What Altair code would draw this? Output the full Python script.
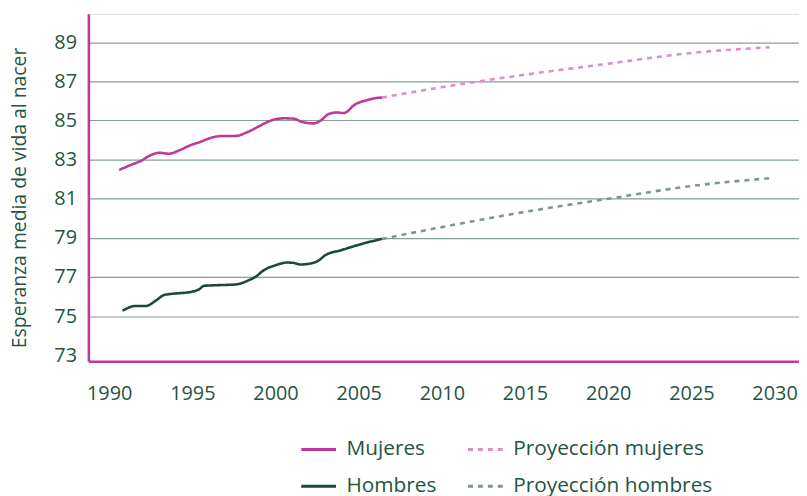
import altair as alt
import pandas as pd

# ---- data ----
muj_years = [1990.6, 1991.4, 1991.9, 1992.5, 1993.0, 1993.6, 1994.2, 1994.9, 1995.5,
             1996.1, 1996.9, 1997.6, 1998.3, 1999.0, 1999.7, 2000.5, 2001.1, 2001.6,
             2002.3, 2002.7, 2003.2, 2003.7, 2004.1, 2004.8, 2005.5, 2006.0, 2006.4]
muj_values = [82.47, 82.76, 82.93, 83.23, 83.35, 83.30, 83.47, 83.74, 83.91,
              84.11, 84.21, 84.21, 84.40, 84.70, 84.99, 85.11, 85.09, 84.92,
              84.85, 84.99, 85.33, 85.41, 85.38, 85.83, 86.04, 86.14, 86.17]

hom_years = [1990.8, 1991.6, 1992.2, 1992.8, 1993.3, 1994.0, 1994.7, 1995.4, 1995.7,
             1996.4, 1997.6, 1998.4, 1998.8, 1999.3, 2000.0, 2000.7, 2001.1, 2001.5,
             2002.1, 2002.6, 2003.0, 2003.9, 2005.1, 2006.4]
hom_values = [75.28, 75.52, 75.52, 75.79, 76.08, 76.16, 76.21, 76.37, 76.55,
              76.58, 76.62, 76.84, 77.01, 77.35, 77.60, 77.74, 77.72, 77.64,
              77.69, 77.85, 78.12, 78.36, 78.67, 78.95]

proj_muj_years = [2006.4, 2010, 2015, 2020, 2025, 2029.7]
proj_muj_values = [86.17, 86.70, 87.34, 87.90, 88.45, 88.74]

proj_hom_years = [2006.4, 2010, 2015, 2020, 2025, 2029.7]
proj_hom_values = [78.95, 79.55, 80.33, 81.00, 81.65, 82.05]

series_names = ["Mujeres", "Proyección mujeres", "Hombres", "Proyección hombres"]
series_colors = ["#c2379b", "#dc8fc6", "#1d4a37", "#7d978b"]
series_dash = [[1, 0], [5, 5], [1, 0], [5, 5]]

y_ticks = [73, 75, 77, 79, 81, 83, 85, 87, 89]
x_ticks = [1990, 1995, 2000, 2005, 2010, 2015, 2020, 2025, 2030]

rows = []
for name, ys, vs in [
    ("Mujeres", muj_years, muj_values),
    ("Proyección mujeres", proj_muj_years, proj_muj_values),
    ("Hombres", hom_years, hom_values),
    ("Proyección hombres", proj_hom_years, proj_hom_values),
]:
    for yr, v in zip(ys, vs):
        rows.append({"serie": name, "year": yr, "value": v})
df = pd.DataFrame(rows)

TEXT = "#24553f"
MAG = "#c2379b"
FONT = "Open Sans"

chart = (
    alt.Chart(df)
    .mark_line(interpolate="monotone", strokeWidth=2.6)
    .encode(
        x=alt.X(
            "year:Q",
            scale=alt.Scale(domain=[1988.75, 2031.47], nice=False, zero=False),
            axis=alt.Axis(
                values=x_ticks, format="d", title=None, grid=False, ticks=False,
                labelPadding=23, labelFontSize=20, labelFont=FONT, labelColor=TEXT,
                domainColor=MAG, domainWidth=2.6,
            ),
        ),
        y=alt.Y(
            "value:Q",
            scale=alt.Scale(domain=[72.7, 90.45], nice=False, zero=False),
            axis=alt.Axis(
                values=y_ticks, format="d", title="Esperanza media de vida al nacer",
                grid=True, gridColor="#86a094", gridWidth=1.2,
                gridOpacity=alt.condition("datum.value == 73", alt.value(0), alt.value(1)),
                ticks=False, labelPadding=12, labelFontSize=20, labelFont=FONT,
                labelColor=TEXT, domainColor=MAG, domainWidth=2.6,
                titleFont=FONT, titleFontSize=19.5, titleFontWeight="normal",
                titleColor=TEXT, titleAngle=270, titleX=-63, titleY=185,
                titleAlign="center", titleBaseline="alphabetic", titleLimit=400,
            ),
        ),
        color=alt.Color(
            "serie:N",
            scale=alt.Scale(domain=series_names, range=series_colors),
            legend=alt.Legend(
                orient="none", legendX=213, legendY=420, direction="horizontal",
                columns=2, title=None, symbolType="stroke", symbolSize=1225,
                symbolStrokeWidth=3, labelFontSize=21, labelFont=FONT,
                labelColor=TEXT, columnPadding=25, rowPadding=8, labelLimit=400,
                symbolOffset=0, labelOffset=9, padding=0,
            ),
        ),
        strokeDash=alt.StrokeDash(
            "serie:N",
            scale=alt.Scale(domain=series_names, range=series_dash),
            legend=None,
        ),
        detail="serie:N",
    )
    .properties(
        width=716,
        height=350,
        autosize=alt.AutoSizeParams(type="none"),
        padding={"left": 81, "top": 4, "right": 0, "bottom": 134},
    )
    .configure_view(stroke=None)
    .configure(background="white")
)

chart.save("out.html", embed_options={"renderer": "svg", "actions": False})
